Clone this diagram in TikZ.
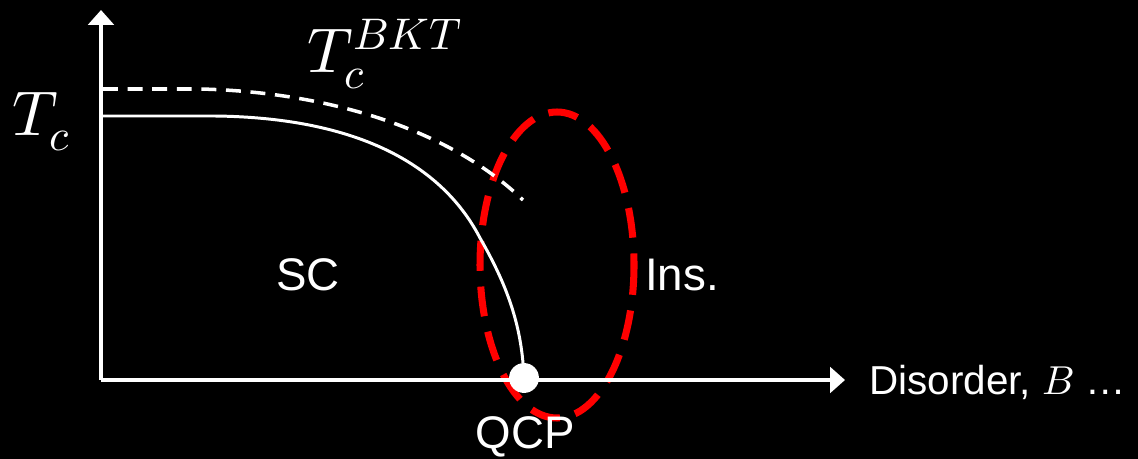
\documentclass[tikz,border=0pt]{standalone}
\usepackage{fontspec}
\usepackage{unicode-math}
\setmainfont{Liberation Sans}
\setmathfont{Latin Modern Math}
\usetikzlibrary{arrows.meta}

\begin{document}
\begin{tikzpicture}[
  x=0.02cm,y=-0.02cm,
  >={Triangle[length=8.5pt,width=14.5pt]},
  axis/.style={->,white,line width=2.3pt},
  phase/.style={white,line width=1.7pt},
  bkt/.style={phase,line width=2pt,dash pattern=on 8.5pt off 5.5pt},
  region/.style={red,line width=4pt,dash pattern=on 17pt off 9pt},
  lbl/.style={text=white,font=\fontsize{26}{30}\selectfont,inner sep=0pt},
  sym/.style={text=white,font=\fontsize{36}{40}\selectfont,inner sep=0pt}
]
  \fill[black] (0,0) rectangle (1138,459);
  \useasboundingbox (0,0) rectangle (1138,459);

  \coordinate (origin) at (101,380);
  \coordinate (ytop) at (101,10);
  \coordinate (xend) at (845,380);
  \coordinate (tc0) at (103,116);
  \coordinate (bkt0) at (103,89);
  \coordinate (bktend) at (523,200);

  % critical region
  \draw[region] (557,265) ellipse [x radius=77,y radius=153];

  % phase boundaries
  \draw[bkt] (bkt0) -- (200,89) .. controls (330,92) and (450,130) .. (bktend);
  \draw[phase] (tc0) -- (215,116) .. controls (380,118) and (450,180) .. (480,238)
    .. controls (510,290) and (522,330) .. (524,378);

  % axes
  \draw[axis] (origin) -- (ytop);
  \draw[axis] (origin) -- (xend);

  \node[circle,fill=white,minimum size=17pt,inner sep=0pt] (qcp) at (524,378) {};

  \node[sym] (tc) at (42,122) {$T_c$};
  \node[sym] (tbkt) at (385,54) {$T_c^{BKT}$};
  \node[lbl] (sc) at (308,275) {SC};
  \node[lbl] (ins) at (682,275) {Ins.};
  \node[lbl] (qcplbl) at (525,437) {QCP};
  \node[lbl,anchor=west,font=\fontsize{23}{27}\selectfont] (xlbl) at (869,382) {Disorder, $B$ …};
\end{tikzpicture}
\end{document}
